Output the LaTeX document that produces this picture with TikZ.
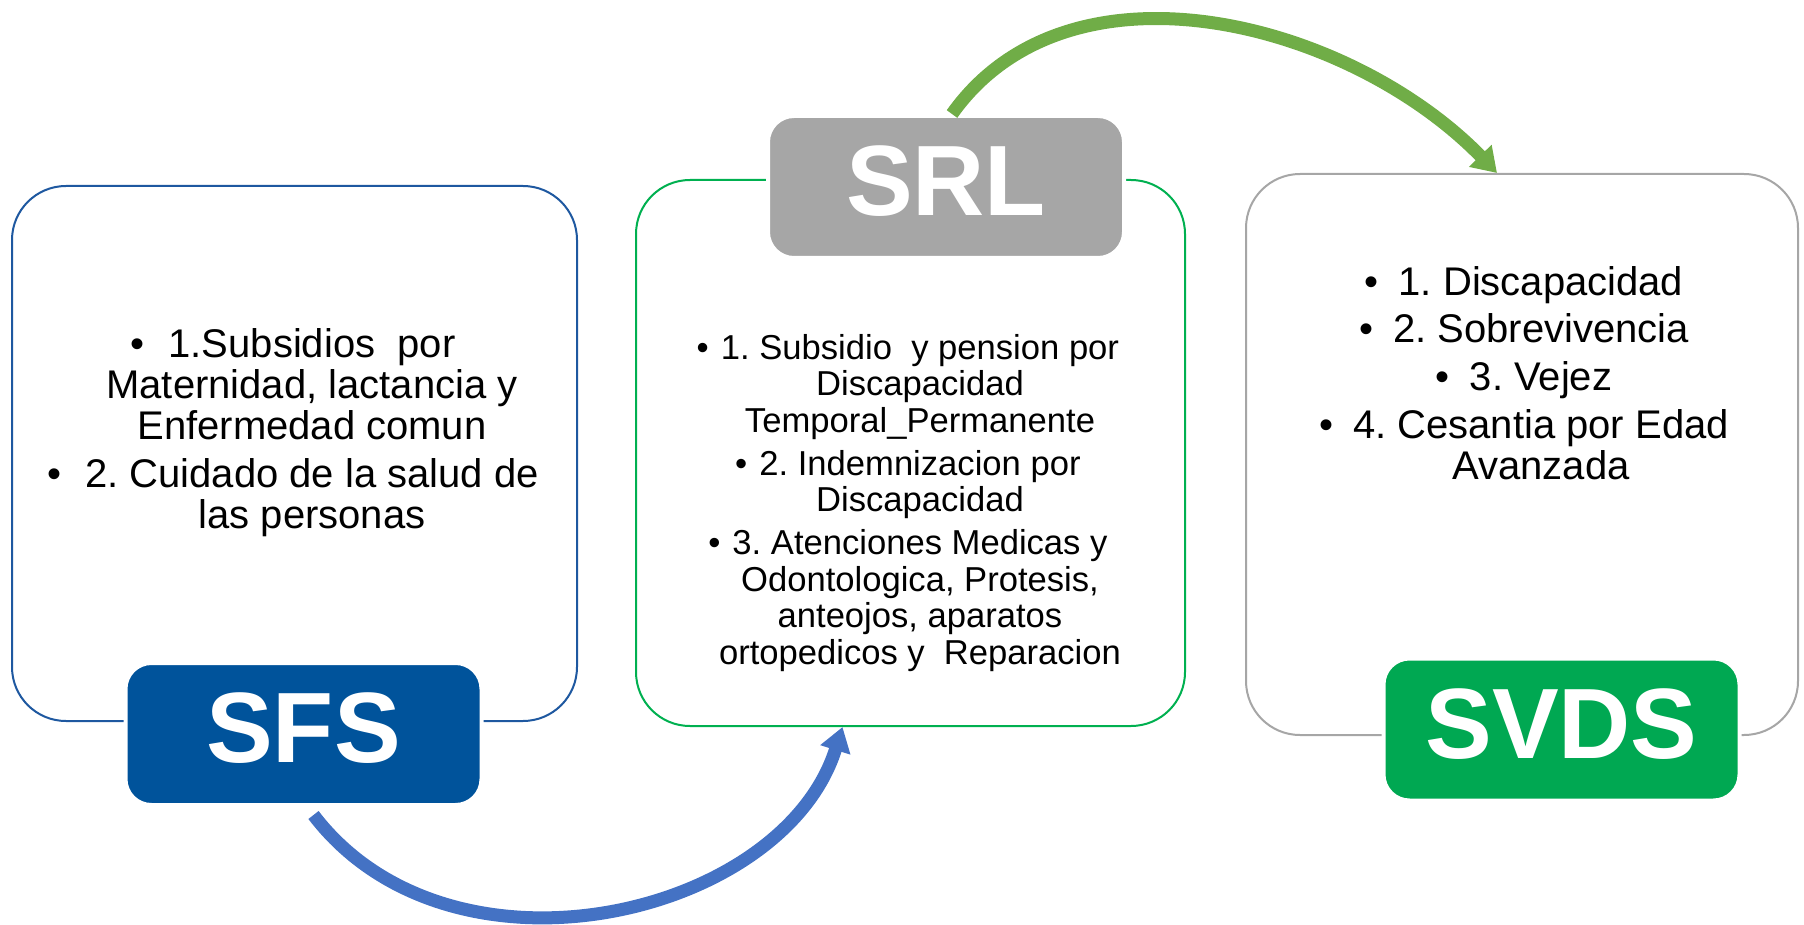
\documentclass[tikz,border=0pt]{standalone}
\usepackage{fontspec}
\setmainfont{Liberation Sans}
\usepackage{tikz}
\usetikzlibrary{arrows.meta}
\definecolor{sfsBlue}{RGB}{0,83,155}
\definecolor{sfsLine}{RGB}{30,88,160}
\definecolor{srlLine}{RGB}{0,176,80}
\definecolor{tagGray}{RGB}{166,166,166}
\definecolor{svdsGreen}{RGB}{0,168,82}
\definecolor{arrowGreen}{RGB}{112,173,71}
\definecolor{arrowBlue}{RGB}{68,114,196}
\newcommand\bul[1][0.6em]{\llap{\textbullet\hspace{#1}}}

\begin{document}
\frenchspacing
\begin{tikzpicture}[
    x=0.5pt, y=-0.5pt,
    panel/.style={%
      draw,
      fill=white,
      line width=1pt,
      rounded corners=27pt,
      inner sep=0pt,
    },
    tag/.style={%
      draw=white,
      line width=2pt,
      rounded corners=13pt,
      inner sep=0pt,
      minimum width=178pt,
      minimum height=71pt,
      text=white,
      text depth=6pt,
      font=\fontsize{50}{60}\selectfont\bfseries,
    },
    items/.style={%
      align=center,
      inner sep=0pt,
    },
    curved/.style={%
      line width=6.5pt,
      -{Triangle[length=12pt,width=15pt]},
    },
  ]

    \useasboundingbox (0,0) rectangle (1804,925);

    \node [panel, draw=sfsLine, minimum width=282.5pt, minimum height=267.5pt] (sfsBox) at (294.5,453.5) {};
    \node [panel, draw=srlLine, minimum width=274.5pt, minimum height=273pt] (srlBox) at (910.5,453) {};
    \node [panel, draw=tagGray, minimum width=276pt, minimum height=280.5pt] (svdsBox) at (1522,454.5) {};

    \node [tag, fill=sfsBlue] (sfsTag) at (303.5,734) {SFS};
    \node [tag, fill=tagGray] (srlTag) at (946,187) {SRL};
    \node [tag, fill=svdsGreen] (svdsTag) at (1561.5,729.5) {SVDS};

    \node [items, font=\fontsize{20}{20.5}\selectfont] (sfsText) at (312,433) {%
      \bul 1.Subsidios\ \ por\\
      Maternidad, lactancia y\\
      Enfermedad comun\\[3.5pt]
      \bul 2. Cuidado de la salud de\\
      las personas};

    \node [items, font=\fontsize{17.3}{18.4}\selectfont] (srlText) at (920,503) {%
      \bul[0.35em]1. Subsidio\ \ y pension por\\
      Discapacidad\\
      Temporal\_Permanente\\[2.8pt]
      \bul[0.35em]2. Indemnizacion por\\
      Discapacidad\\[2.8pt]
      \bul[0.35em]3. Atenciones Medicas y\\
      Odontologica, Protesis,\\
      anteojos, aparatos\\
      ortopedicos y\ \ Reparacion};

    \node [items, font=\fontsize{20}{20.5}\selectfont] (svdsText) at (1541,373) {%
      \bul[0.5em]1. Discapacidad\\[3.3pt]
      \bul[0.5em]2. Sobrevivencia\\[3.3pt]
      \bul[0.5em]3. Vejez\\[3.3pt]
      \bul[0.5em]4. Cesantia por Edad\\
      Avanzada};

    \draw [curved, arrowBlue] ([xshift=5pt,yshift=-4pt]sfsTag.south)
      .. controls (451,995) and (783,917) .. ([xshift=-34pt]srlBox.south);
    \draw [curved, arrowGreen] ([xshift=3pt]srlTag.north)
      .. controls (1070,-52) and (1350,22) .. ([xshift=-12.5pt]svdsBox.north);
\end{tikzpicture}
\end{document}
